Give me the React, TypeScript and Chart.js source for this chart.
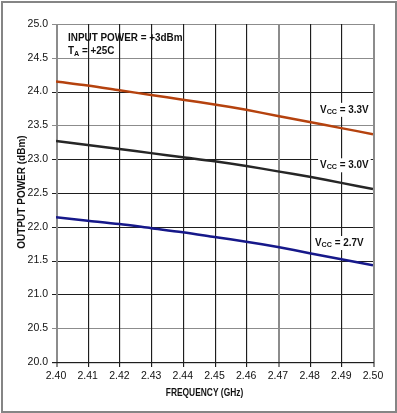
import React, { useEffect, useRef } from "react";
import { Chart, registerables } from "chart.js";

Chart.register(...registerables);

const freqs = [2.40, 2.41, 2.42, 2.43, 2.44, 2.45, 2.46, 2.47, 2.48, 2.49, 2.50];
const vcc33 = [24.15, 24.09, 24.02, 23.95, 23.88, 23.81, 23.73, 23.64, 23.55, 23.46, 23.37];
const vcc30 = [23.27, 23.21, 23.15, 23.09, 23.03, 22.97, 22.90, 22.82, 22.74, 22.65, 22.56];
const vcc27 = [22.14, 22.09, 22.04, 21.98, 21.92, 21.85, 21.78, 21.70, 21.61, 21.52, 21.43];
const xTicks = [2.40, 2.41, 2.42, 2.43, 2.44, 2.45, 2.46, 2.47, 2.48, 2.49, 2.50];
const yTicks = [20.0, 20.5, 21.0, 21.5, 22.0, 22.5, 23.0, 23.5, 24.0, 24.5, 25.0];
const grayX = [2.40, 2.47, 2.50];
const grayY = [25.0, 24.5, 23.5, 20.5];
const seriesLabels = ["3.3V", "3.0V", "2.7V"];
const seriesColors = ["#b5420e", "#262626", "#16188a"];
// label anchors in data coordinates (left edge x, vertical centre y)
const labelAnchors = [
  { x: 2.4833, y: 23.73 },
  { x: 2.4833, y: 22.91 },
  { x: 2.4817, y: 21.76 },
];

const FONT = "'Liberation Sans', Arial, sans-serif";

const near = (arr: number[], v: number) => arr.some((a) => Math.abs(a - v) < 1e-6);

const gridPlugin = {
  id: "manualGrid",
  beforeDraw(chart: any) {
    const ctx = chart.ctx;
    ctx.save();
    ctx.fillStyle = "#ffffff";
    ctx.fillRect(0, 0, chart.width, chart.height);
    ctx.restore();
  },
  beforeDatasetsDraw(chart: any) {
    const ctx = chart.ctx;
    const xs = chart.scales.x;
    const ys = chart.scales.y;
    const a = chart.chartArea;
    ctx.save();
    yTicks.forEach((v) => {
      const y = Math.round(ys.getPixelForValue(v)) + 0.5;
      ctx.lineWidth = 1;
      ctx.strokeStyle = near(grayY, v) ? "#8c8c8c" : "#1e1e1e";
      ctx.beginPath();
      ctx.moveTo(a.left - 4, y);
      ctx.lineTo(a.right, y);
      ctx.stroke();
    });
    xTicks.forEach((v) => {
      const x = Math.round(xs.getPixelForValue(v));
      const gray = near(grayX, v);
      ctx.fillStyle = gray ? "#8c8c8c" : "#1e1e1e";
      ctx.fillRect(x, a.top, gray ? 2 : 1.15, a.bottom + 5 - a.top);
    });
    // bottom axis
    ctx.fillStyle = "#1e1e1e";
    ctx.fillRect(a.left - 4, Math.round(a.bottom), a.right - a.left + 5, 1.2);
    ctx.restore();
  },
  afterDraw(chart: any) {
    const ctx = chart.ctx;
    const xs = chart.scales.x;
    const ys = chart.scales.y;
    const area = chart.chartArea;
    ctx.save();
    // outer frame
    ctx.strokeStyle = "#858585";
    ctx.lineWidth = 2;
    ctx.strokeRect(2, 2, chart.width - 3, chart.height - 3);

    const squeeze = 0.9;
    const drawText = (txt: string, x: number, y: number, size: number) => {
      ctx.save();
      ctx.font = `bold ${size}px ${FONT}`;
      ctx.textBaseline = "middle";
      ctx.textAlign = "left";
      ctx.translate(x, y);
      ctx.scale(squeeze, 1);
      ctx.fillText(txt, 0, 0);
      const w = ctx.measureText(txt).width * squeeze;
      ctx.restore();
      return w;
    };

    ctx.fillStyle = "#111";
    // annotation top-left
    const ax = xs.getPixelForValue(2.4038);
    drawText("INPUT POWER = +3dBm", ax, ys.getPixelForValue(24.8), 11);
    let w = drawText("T", ax, ys.getPixelForValue(24.6), 11);
    w += drawText("A", ax + w, ys.getPixelForValue(24.6) + 2.5, 8);
    drawText(" = +25C", ax + w, ys.getPixelForValue(24.6), 11);

    // Vcc labels with white background
    seriesLabels.forEach((lab, i) => {
      const x0 = xs.getPixelForValue(labelAnchors[i].x);
      const y0 = ys.getPixelForValue(labelAnchors[i].y);
      ctx.save();
      ctx.font = `bold 11px ${FONT}`;
      const w1 = ctx.measureText("V").width * squeeze;
      const w3 = ctx.measureText(" = " + lab).width * squeeze;
      ctx.font = `bold 8px ${FONT}`;
      const w2 = ctx.measureText("CC").width * squeeze;
      ctx.fillStyle = "#ffffff";
      ctx.fillRect(x0 - 2, y0 - 7, w1 + w2 + w3 + 4, 14);
      ctx.restore();
      ctx.fillStyle = "#111";
      let xx = x0;
      xx += drawText("V", xx, y0, 11);
      xx += drawText("CC", xx, y0 + 1.5, 8);
      drawText(" = " + lab, xx, y0, 11);
    });

    // axis titles
    ctx.fillStyle = "#111";
    ctx.font = `bold 10px ${FONT}`;
    ctx.textAlign = "center";
    ctx.textBaseline = "middle";
    ctx.save();
    ctx.translate(22, (area.top + area.bottom) / 2 - 1);
    ctx.rotate(-Math.PI / 2);
    ctx.fillText("OUTPUT POWER (dBm)", 0, 0);
    ctx.restore();
    ctx.save();
    ctx.font = `bold 10.5px ${FONT}`;
    ctx.translate((area.left + area.right) / 2 - 10, 393);
    ctx.scale(0.8, 1);
    ctx.fillText("FREQUENCY (GHz)", 0, 0);
    ctx.restore();
    ctx.restore();
  },
};

export default function App() {
  const ref = useRef<HTMLCanvasElement | null>(null);
  useEffect(() => {
    if (!ref.current) return;
    const mk = (arr: number[]) => freqs.map((f, i) => ({ x: f, y: arr[i] }));
    const chart = new Chart(ref.current, {
      type: "line",
      data: {
        datasets: [vcc33, vcc30, vcc27].map((arr, i) => ({
          label: seriesLabels[i],
          data: mk(arr),
          borderColor: seriesColors[i],
          borderWidth: 2.5,
          pointRadius: 0,
          tension: 0.3,
          fill: false,
        })),
      },
      options: {
        responsive: false,
        animation: false,
        devicePixelRatio: 1,
        layout: { padding: { left: 0, top: 24, right: 24, bottom: 0 } },
        plugins: { legend: { display: false }, tooltip: { enabled: false } },
        scales: {
          x: {
            type: "linear",
            min: 2.4,
            max: 2.5,
            afterFit: (s: any) => {
              s.height = 51;
            },
            afterBuildTicks: (s: any) => {
              s.ticks = xTicks.map((v) => ({ value: v }));
            },
            ticks: {
              callback: (v: any) => Number(v).toFixed(2),
              font: { family: FONT, size: 10.5 },
              color: "#111",
              padding: 8,
              maxRotation: 0,
              autoSkip: false,
            },
            grid: { display: false, drawTicks: false },
            border: { display: false },
          },
          y: {
            type: "linear",
            min: 20,
            max: 25,
            afterFit: (s: any) => {
              s.width = 56;
            },
            afterBuildTicks: (s: any) => {
              s.ticks = yTicks.map((v) => ({ value: v }));
            },
            ticks: {
              callback: (v: any) => Number(v).toFixed(1),
              font: { family: FONT, size: 10.5 },
              color: "#111",
              padding: 8,
              autoSkip: false,
            },
            grid: { display: false, drawTicks: false },
            border: { display: false },
          },
        },
      },
      plugins: [gridPlugin],
    });
    return () => chart.destroy();
  }, []);
  return (
    <div style={{ position: "fixed", left: 0, top: 0, width: 397, height: 413 }}>
      <canvas ref={ref} width={397} height={413} style={{ display: "block" }} />
    </div>
  );
}
